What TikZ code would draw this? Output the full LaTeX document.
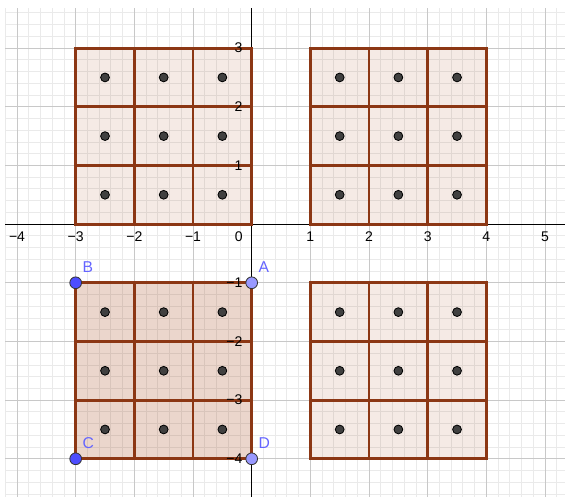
\documentclass[tikz,border=0pt]{standalone}
\usepackage{fontspec}
\setmainfont{Liberation Sans}
\usetikzlibrary{positioning}
\definecolor{gridmajor}{RGB}{200,200,200}
\definecolor{gridminor}{RGB}{234,234,234}
\definecolor{squareedge}{RGB}{140,55,20}
\definecolor{squarefill}{RGB}{153,51,0}
\definecolor{dotgrey}{RGB}{64,64,64}
\definecolor{vertexdark}{RGB}{77,77,255}
\definecolor{vertexlight}{RGB}{153,153,255}
\definecolor{vertextext}{RGB}{100,100,255}
\tikzset{
  every node/.style={
    font=\fontsize{6.8}{8}\selectfont
  },
  tick x/.style={
    inner sep=0pt,
    text=black
  },
  tick y/.style={
    anchor=east,
    inner sep=0pt,
    text=black
  },
  square light/.style={
    draw=squareedge,
    line width=1.4pt,
    fill=squarefill,
    fill opacity=0.1
  },
  square dark/.style={
    draw=squareedge,
    line width=1.4pt,
    fill=squarefill,
    fill opacity=0.2
  },
  cell dot/.style={
    shape=circle,
    draw=black,
    line width=0.4pt,
    fill=dotgrey,
    minimum size=0.15cm,
    inner sep=0pt
  },
  vertex/.style={
    shape=circle,
    draw=black!80,
    line width=0.4pt,
    fill=#1,
    minimum size=0.2cm,
    inner sep=0pt
  },
  vertex label/.style={
    text=vertextext,
    inner sep=1pt,
    font=\fontsize{7.6}{9}\selectfont
  }
}
\begin{document}
\begin{tikzpicture}
  \useasboundingbox (-4.29,-4.65) rectangle (5.34,3.82);
  \draw[gridminor, line width=0.4pt, step=0.2] (-4.2,-4.65) grid (5.34,3.685);
  \draw[gridmajor, line width=0.45pt, step=1] (-4.2,-4.65) grid (5.34,3.685);
  \draw[black, line width=0.5pt] (-4.2,0) -- (5.34,0);
  \draw[black, line width=0.5pt] (0,-4.65) -- (0,3.685);
  \foreach \x/\y/\s in {-3/0/tl, 1/0/tr, 1/-4/br}{
    \foreach \i in {0,1,2}{
      \foreach \j in {0,1,2}{
        \draw[square light] (\x+\i,\y+\j) rectangle ++(1,1);
      }
    }
  }
  \foreach \i in {0,1,2}{
    \foreach \j in {0,1,2}{
      \draw[square dark] (-3+\i,-4+\j) rectangle ++(1,1);
    }
  }
  \foreach \x/\y/\s in {-3/0/tl, 1/0/tr, -3/-4/bl, 1/-4/br}{
    \foreach \i in {0,1,2}{
      \foreach \j in {0,1,2}{
        \node[cell dot] (\s\i\j) at (\x+\i+0.5,\y+\j+0.5) {};
      }
    }
  }
  \foreach \x/\t in {-4/−4,-3/−3,-2/−2,-1/−1,1/1,2/2,3/3,4/4,5/5}{
    \node[tick x] (tx\x) at (\x,-0.22) {\t};
  }
  \node[tick x] (tx0) at (-0.22,-0.22) {0};
  \foreach \y/\t in {3/3,2/2,1/1,-1/−1,-2/−2,-3/−3,-4/−4}{
    \node[tick y] (ty\y) at (-0.15,\y) {\t};
  }
  \node[vertex=vertexlight] (A) at (0,-1) {};
  \node[vertex=vertexdark] (B) at (-3,-1) {};
  \node[vertex=vertexdark] (C) at (-3,-4) {};
  \node[vertex=vertexlight] (D) at (0,-4) {};
  \node[vertex label, above right=0.05cm and 0cm of A] (labelA) {A};
  \node[vertex label, above right=0.05cm and 0cm of B] (labelB) {B};
  \node[vertex label, above right=0.05cm and 0cm of C] (labelC) {C};
  \node[vertex label, above right=0.05cm and 0cm of D] (labelD) {D};
\end{tikzpicture}
\end{document}
